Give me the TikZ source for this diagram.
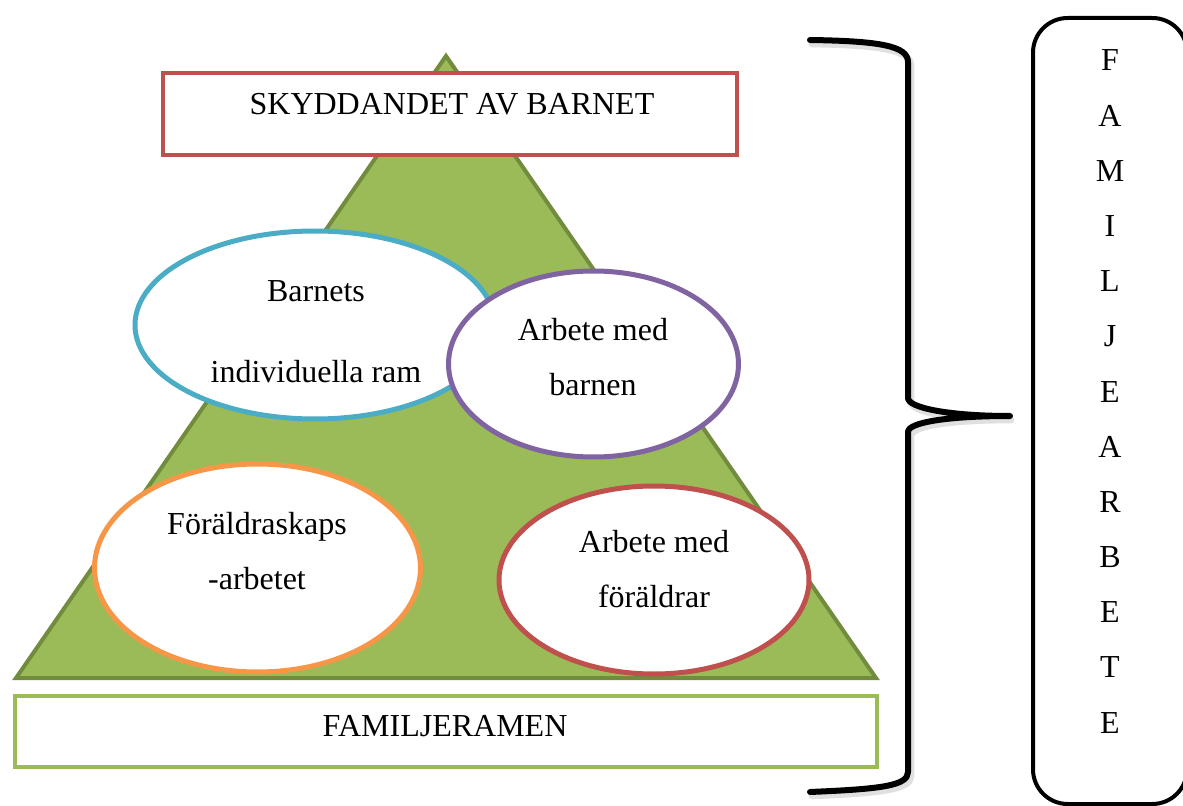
\documentclass[tikz,border=0pt]{standalone}
\usepackage{fontspec}
\setmainfont{Liberation Serif}
\usetikzlibrary{shapes.geometric}

\definecolor{leafgreen}{HTML}{9BBB59}
\definecolor{leafdark}{HTML}{728C3D}
\definecolor{brickred}{HTML}{C0504D}
\definecolor{skyblue}{HTML}{4BACC6}
\definecolor{plum}{HTML}{8064A2}
\definecolor{tangerine}{HTML}{F79646}

\tikzset{
    frame/.style={rectangle, draw, fill=white, line width=3pt, inner sep=0pt},
    blob/.style={ellipse, draw, fill=white, line width=3.75pt, inner sep=0pt},
    txt/.style={font=\fontsize{24}{41.25}\selectfont, align=center, inner sep=0pt},
    brace/.style={draw, line width=4.5pt, line cap=round, line join=round}
}

\begin{document}
\begin{tikzpicture}[x=0.75pt, y=-0.75pt]
    \useasboundingbox (0,0) rectangle (1183,806);

    % Define the pyramid
    \coordinate (apex) at (446,56);
    \coordinate (baseL) at (16,678);
    \coordinate (baseR) at (876,678);
    \draw[fill=leafgreen, draw=leafdark, line width=3pt] (apex) -- (baseR) -- (baseL) -- cycle;

    % Define the two frames
    \node[frame, draw=brickred, minimum width=430.5pt, minimum height=61.5pt] (skydd) at (450,114) {};
    \node[txt] (skyddtxt) at (452,104) {SKYDDANDET AV BARNET};
    \node[frame, draw=leafgreen, minimum width=646.5pt, minimum height=53.25pt] (ramen) at (446,731.5) {};
    \node[txt] (ramentxt) at (445,726) {FAMILJERAMEN};

    % Define the four ellipses
    \node[blob, draw=skyblue, minimum width=270pt, minimum height=141pt] (ram) at (315,325) {};
    \node[blob, draw=plum, minimum width=217.5pt, minimum height=139.5pt] (barnen) at (593.5,364) {};
    \node[blob, draw=tangerine, minimum width=244.5pt, minimum height=156pt] (foralder) at (257.5,568) {};
    \node[blob, draw=brickred, minimum width=232.5pt, minimum height=141pt] (foraldrar) at (654,580) {};

    \node[txt] (ramtxt) at (316,331.5) {Barnets\\[19.5pt]individuella ram};
    \node[txt] (barnentxt) at (593,357) {Arbete med\\barnen};
    \node[txt] (foraldertxt) at (257,551.5) {Föräldraskaps\\-arbetet};
    \node[txt] (foraldrartxt) at (654,569.5) {Arbete med\\föräldrar};

    % Draw the brace
    \coordinate (tip) at (1010,416);
    \draw[brace, black!12, line width=5pt] (812,44) .. controls (880,45) and (911,50) .. (911,66) -- (911,402)
        .. controls (911,412) and (950,420) .. ([shift={(1,4)}]tip) .. controls (950,420) and (911,426) .. (911,436)
        -- (911,776) .. controls (911,790) and (880,793) .. (812,796);
    \draw[brace] (810,40) .. controls (880,41) and (908,46) .. (908,62) -- (908,398)
        .. controls (908,408) and (950,416) .. (tip) .. controls (950,416) and (908,422) .. (908,432)
        -- (908,772) .. controls (908,786) and (880,789) .. (810,792);

    % Define the side box and its letters
    \draw[line width=3pt, rounded corners=26pt] (1033,18) rectangle (1187,804);
    \foreach \ch [count=\i] in {F,A,M,I,L,J,E,A,R,B,E,T,E}
        \node[txt, anchor=base] (letter\i) at (1110,{71+55.17*(\i-1)}) {\ch};

\end{tikzpicture}
\end{document}
